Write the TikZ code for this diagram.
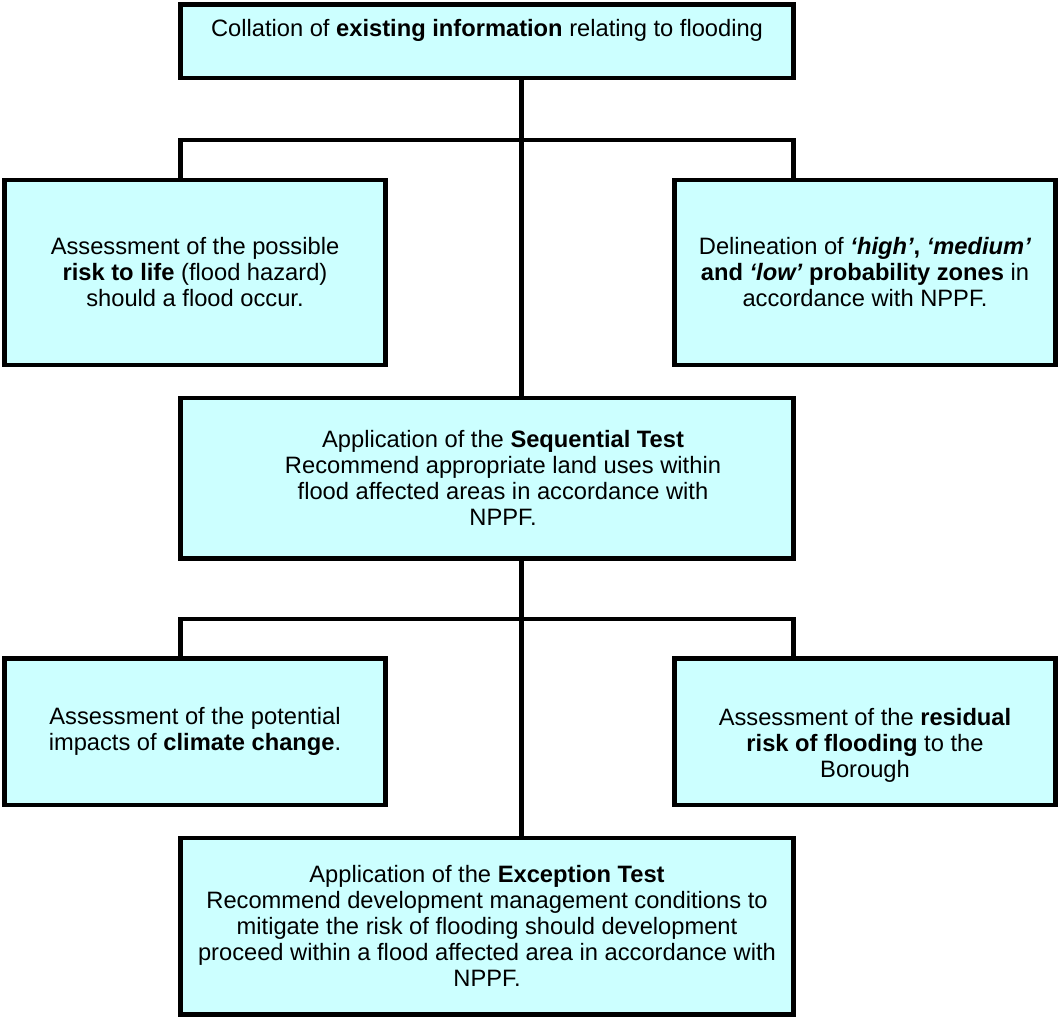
\documentclass[tikz,border=0pt]{standalone}
\usepackage{fontspec}
\setmainfont{Liberation Sans}
\usepackage{xcolor}
\definecolor{BoxCyan}{HTML}{CCFFFF}
\usepackage{tikz}
\usetikzlibrary{positioning,calc}
\tikzset{
  bx/.style={draw=black,fill=BoxCyan,line width=2.25pt,outer sep=0pt,inner sep=2pt,
    align=center,text=black,font=\fontsize{11.85pt}{13pt}\selectfont},
  side/.style={bx,minimum width=190.5pt},
  mid/.style={bx,minimum width=306.5pt},
  link/.style={draw=black,line width=2.25pt},
}
\newcommand{\ind}{\hspace*{16pt}}

\begin{document}
\begin{tikzpicture}[x=0.5pt,y=-0.5pt]
\useasboundingbox (0,0) rectangle (1058,1017);

% top of the chain
\node[mid,minimum height=36.75pt] (coll) at (487,41.25)
  {Collation of \textbf{existing information} relating to flooding\\\mbox{}};

% first pair
\node[side,minimum height=92.5pt] (risk) at (195,272.5)
  {Assessment of the possible\\\textbf{risk to life} (flood hazard)\\should a flood occur.};
\node[side,minimum height=92.5pt] (zones) at (865,272.5)
  {Delineation of \textbf{\textit{`high'}, \textit{`medium'}}\\\textbf{and \textit{`low'} probability zones} in\\accordance with NPPF.};

% sequential test
\node[mid,minimum height=80.25pt] (seq) at (487,478.25)
  {\ind Application of the \textbf{Sequential Test}\\\ind Recommend appropriate land uses within\\
   \ind flood affected areas in accordance with\\\ind NPPF.};

% second pair
\node[side,minimum height=73.25pt] (climate) at (195,731.75)
  {Assessment of the potential\\impacts of \textbf{climate change}.};
\node[side,minimum height=73.25pt] (resid) at (865,731.75)
  {\strut\\Assessment of the \textbf{residual}\\\textbf{risk of flooding} to the\\Borough};

% exception test
\node[mid,minimum height=88.25pt] (exc) at (487,926.25)
  {Application of the \textbf{Exception Test}\\Recommend development management conditions to\\mitigate the risk of flooding should development\\proceed within a flood affected area in accordance with\\NPPF.};

% spine and bars
\coordinate (spine) at (521.5,0);
\coordinate (bar1) at (521.5,140);
\coordinate (bar2) at (521.5,619);
\draw[link] (coll.south -| spine) -- (seq.north -| spine);
\draw[link] (seq.south -| spine) -- (exc.north -| spine);
\draw[link] (coll.west |- risk.north) |- (bar1) -| (coll.east |- zones.north);
\draw[link] (seq.west |- climate.north) |- (bar2) -| (seq.east |- resid.north);
\end{tikzpicture}
\end{document}
